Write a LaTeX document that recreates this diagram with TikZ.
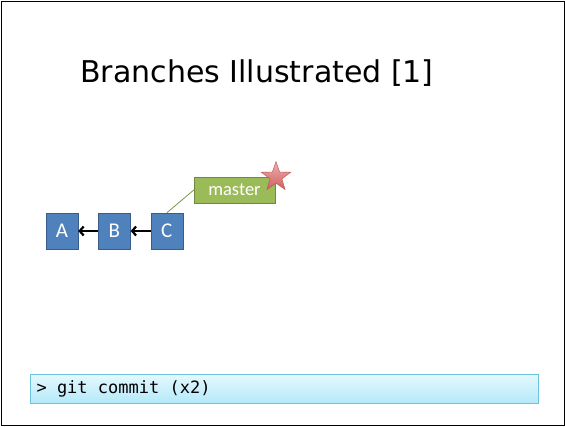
\documentclass[tikz,border=0pt]{standalone}
\usepackage{fontspec}
\setmainfont{Carlito}
\setmonofont{DejaVu Sans Mono}
\newfontfamily\titlefont{DejaVu Sans}
\usetikzlibrary{positioning, arrows.meta, shapes.geometric}

\definecolor{commitblue}{HTML}{4F81BD}
\definecolor{commitedge}{HTML}{385D8A}
\definecolor{branchgreen}{HTML}{9BBB59}
\definecolor{branchedge}{HTML}{71893F}
\definecolor{starred}{HTML}{E46C6C}
\definecolor{staredge}{HTML}{C0504D}
\definecolor{cmdtop}{HTML}{E6F8FE}
\definecolor{cmdbottom}{HTML}{B4E9F9}
\definecolor{cmdedge}{HTML}{6CC3DB}

\tikzset{
  commit/.style={rectangle, draw=commitedge, fill=commitblue, text=white,
    minimum width=32pt, minimum height=36pt, inner sep=0pt, font=\fontsize{21}{21}\selectfont},
  branch/.style={rectangle, draw=branchedge, fill=branchgreen, text=white,
    minimum width=81pt, minimum height=26pt, inner sep=0pt, font=\fontsize{18.5}{18.5}\selectfont},
  parent/.style={line width=2.2pt, -{Straight Barb[length=4pt, width=9pt]}}
}

\begin{document}
\begin{tikzpicture}[x=1pt, y=1pt, node distance=20pt]

\useasboundingbox (0,0) rectangle (565,426);

% Slide frame
\draw[line width=0.8pt] (1,1) rectangle (564,425);

% Title
\node (title) at (257,353) {\titlefont\fontsize{30}{30}\selectfont Branches Illustrated [1]};

% Commits
\node[commit] (a) at (62,195) {A};
\node[commit, right=of a] (b) {B};
\node[commit, right=of b] (c) {C};

\draw[parent] (b) -- (a);
\draw[parent] (c) -- (b);

% Branch label
\node[branch] (master) at (234.5,236) {master};
\draw[branchgreen!80!black, line width=0.8pt] (c.north) -- (master.west);

% HEAD marker
\node[star, star points=5, star point ratio=2.5, minimum size=31pt, inner sep=0pt,
  draw=staredge, top color=starred!55, bottom color=starred!90!black] (head) at (276,249) {};

% Command bar
\shade[top color=cmdtop, bottom color=cmdbottom, draw=cmdedge, line width=0.8pt]
  (30,23) rectangle (538,52);
\node[anchor=west, font=\ttfamily\fontsize{17}{17}\selectfont] (cmd) at (33,37.5) {> git commit (x2)};

\end{tikzpicture}
\end{document}
